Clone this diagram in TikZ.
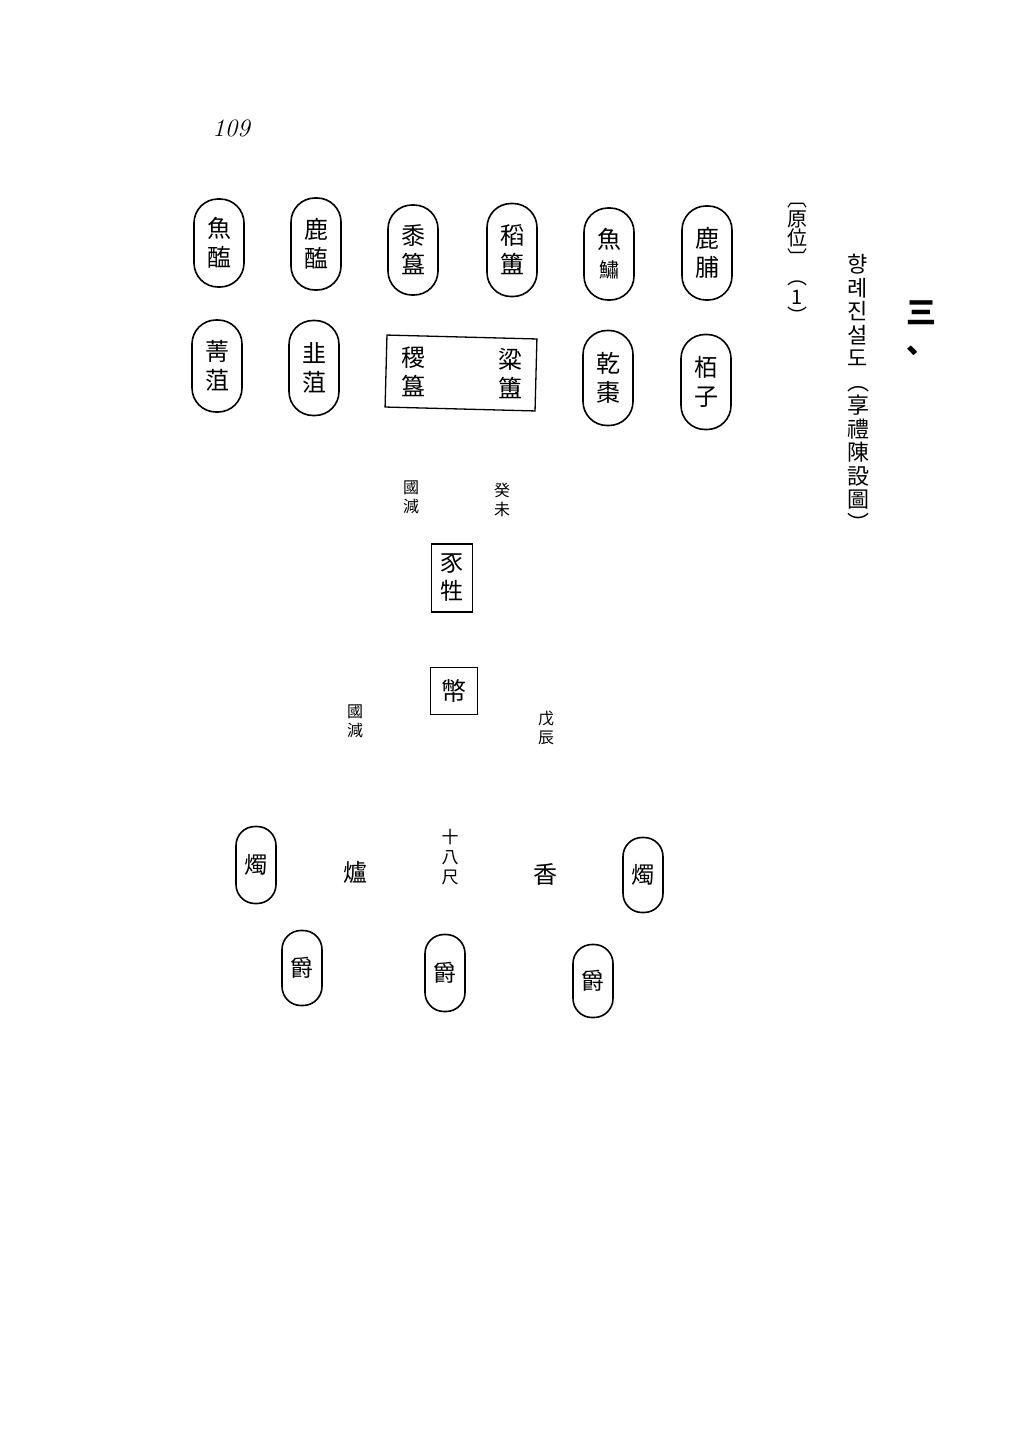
\documentclass[tikz,border=0pt]{standalone}
\usepackage{fontspec}
\newfontfamily\cjk{Noto Sans CJK KR}
\begin{document}
\begin{tikzpicture}[x=1pt,y=-1pt,
  dish/.style={draw, line width=1.6pt, rounded corners=24pt, minimum width=50pt, minimum height=90pt, inner sep=0pt, align=center, font=\cjk\fontsize{24}{29}\selectfont},
  smalldish/.style={draw, line width=1.6pt, rounded corners=19pt, minimum width=40pt, minimum height=76pt, inner sep=0pt, align=center, font=\cjk\fontsize{23}{26}\selectfont},
  boxed/.style={draw, line width=1.3pt, inner sep=0pt, align=center},
  note/.style={inner sep=0pt, align=center, font=\cjk\fontsize{16}{19}\selectfont},
  big/.style={inner sep=0pt, align=center, font=\cjk\fontsize{24}{29}\selectfont},
  column/.style={inner sep=0pt, align=center, anchor=north}]
\useasboundingbox (0,0) rectangle (1024,1440);
\fill[white] (0,0) rectangle (1024,1440);

% page number
\node[inner sep=0pt, font=\fontsize{25}{28}\selectfont\itshape] (page) at (231,128) {109};

% row 1
\node[dish, minimum height=88pt] (r1a) at (219,243) {魚\\醢};
\node[dish, minimum height=92pt] (r1b) at (316,244) {鹿\\醢};
\node[dish, minimum height=90pt] (r1c) at (413,250) {黍\\簋};
\node[dish, minimum height=93pt] (r1d) at (512,250) {稻\\簠};
\node[dish, minimum height=92pt] (r1e) at (609,254) {魚\\{\fontsize{20}{26}\selectfont 鱐}};
\node[dish, minimum height=94pt] (r1f) at (707,253) {鹿\\脯};

% row 2
\node[dish, minimum height=92pt] (r2a) at (217,366) {菁\\菹};
\node[dish, minimum height=95pt] (r2b) at (314,368) {韭\\菹};
\node[boxed, minimum width=150pt, minimum height=72pt, rotate=-1.5] (r2c) at (461,373) {};
\node[big] (r2c1) at (413,372) {稷\\簋};
\node[big] (r2c2) at (510,374) {粱\\簠};
\node[dish, minimum height=95pt] (r2d) at (608,378) {乾\\棗};
\node[dish, minimum height=95pt] (r2e) at (706,382) {栢\\子};

% sacrifice
\node[note] (n1) at (411,497) {國\\減};
\node[note] (n2) at (502,500) {癸\\未};
\node[boxed, minimum width=41pt, minimum height=68pt, font=\cjk\fontsize{23}{28}\selectfont] (pig) at (452,578) {豕\\牲};
\node[boxed, minimum width=47pt, minimum height=47pt, font=\cjk\fontsize{25}{28}\selectfont] (silk) at (454,691) {幣};
\node[note] (n3) at (355,721) {國\\減};
\node[note] (n4) at (546,728) {戊\\辰};

% front
\node[smalldish, minimum height=77pt] (c1) at (256,865) {燭};
\node[big] (lu) at (355,872) {爐};
\node[note, font=\cjk\fontsize{17}{20}\selectfont] (chi) at (450,857) {十\\八\\尺};
\node[big] (xiang) at (545,874) {香};
\node[smalldish, minimum height=75pt] (c2) at (643,875) {燭};
\node[smalldish, minimum height=75pt] (j1) at (302,968) {爵};
\node[smalldish, minimum height=77pt] (j2) at (445,973) {爵};
\node[smalldish, minimum height=73pt] (j3) at (593,981) {爵};

% right columns
\node[column, font=\cjk\fontsize{20}{19.5}\selectfont] (yuan) at (797,203) {︹\\原\\位\\︺\\︵\\1\\︶};
\node[column, font=\cjk\fontsize{22}{23.5}\selectfont] (title) at (858,254) {향\\례\\진\\설\\도\\︵\\享\\禮\\陳\\設\\圖\\︶};
\node[column, font=\cjk\bfseries\fontsize{30}{30}\selectfont] (three) at (921,300) {三\\、};
\end{tikzpicture}
\end{document}
